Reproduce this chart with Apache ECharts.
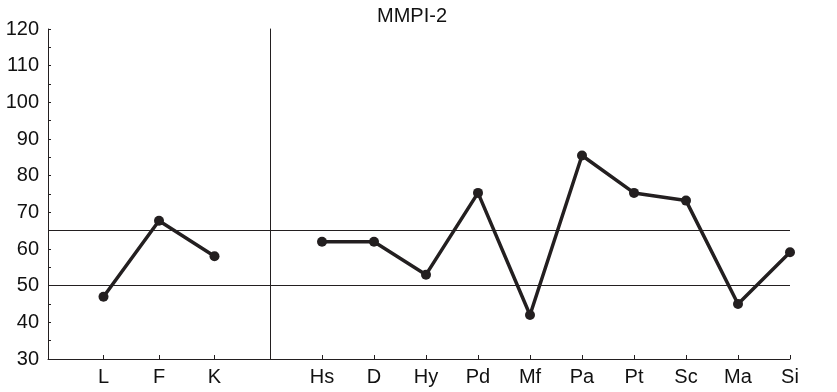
<!DOCTYPE html>
<html>
<head>
<meta charset="utf-8">
<script src="https://cdn.jsdelivr.net/npm/echarts@6/dist/echarts.min.js"></script>
<style>html,body{margin:0;padding:0;background:#fff}#c{width:837px;height:392px}</style>
</head>
<body>
<div id="c"></div>
<script>
var titleText = 'MMPI-2';
var validityScales = ['L', 'F', 'K'];
var validityValues = [47, 67.7, 58];
var clinicalScales = ['Hs', 'D', 'Hy', 'Pd', 'Mf', 'Pa', 'Pt', 'Sc', 'Ma', 'Si'];
var clinicalValues = [62, 62, 53, 75.3, 42, 85.5, 75.3, 73.2, 45, 59.1];
var referenceLines = [50, 65];
var yMin = 30, yMax = 120, yStep = 10;

var ink = '#231f20';
var font = 'Liberation Sans, Helvetica, Arial, sans-serif';

var leftCats = [''].concat(validityScales, ['']);
var leftData = [null].concat(validityValues, [null]);
var rightCats = [''].concat(clinicalScales);
var rightData = [null].concat(clinicalValues);

function markLines() {
  return {
    silent: true, symbol: 'none', label: {show: false},
    lineStyle: {color: ink, width: 1, type: 'solid'},
    data: referenceLines.map(function (v) { return {yAxis: v}; })
  };
}

var xBase = {
  type: 'category', boundaryGap: false,
  axisLine: {show: true, lineStyle: {color: ink, width: 1}},
  axisTick: {show: true, inside: true, length: 4, interval: 0, lineStyle: {color: ink}},
  axisLabel: {interval: 0, color: '#111', fontFamily: font, fontSize: 20, margin: 8},
  splitLine: {show: false}
};

var chart = echarts.init(document.getElementById('c'), null, {renderer: 'canvas'});
chart.setOption({
  animation: false,
  backgroundColor: '#fff',
  title: {text: titleText, left: 377, top: 6, padding: 0,
    textStyle: {fontFamily: font, fontSize: 20, fontWeight: 'normal', color: '#111'}},
  grid: [
    {left: 48, top: 29, width: 222, height: 330},
    {left: 270, top: 29, width: 520, height: 330}
  ],
  xAxis: [
    Object.assign({}, xBase, {gridIndex: 0, data: leftCats}),
    Object.assign({}, xBase, {gridIndex: 1, data: rightCats})
  ],
  yAxis: [
    {type: 'value', gridIndex: 0, min: yMin, max: yMax, interval: yStep,
      axisLine: {show: true, lineStyle: {color: ink, width: 1}},
      axisTick: {show: true, inside: true, length: 3, lineStyle: {color: ink}},
      minorTick: {show: true, splitNumber: 2, length: 3, lineStyle: {color: ink}},
      axisLabel: {color: '#111', fontFamily: font, fontSize: 20, margin: 9},
      splitLine: {show: false}},
    {type: 'value', gridIndex: 1, min: yMin, max: yMax, interval: yStep,
      axisLine: {show: true, lineStyle: {color: ink, width: 1}},
      axisTick: {show: false}, axisLabel: {show: false}, splitLine: {show: false}}
  ],
  series: [
    {type: 'line', xAxisIndex: 0, yAxisIndex: 0, data: leftData,
      symbol: 'circle', symbolSize: 10, showAllSymbol: true,
      lineStyle: {color: ink, width: 3.5}, itemStyle: {color: ink},
      markLine: markLines()},
    {type: 'line', xAxisIndex: 1, yAxisIndex: 1, data: rightData,
      symbol: 'circle', symbolSize: 10, showAllSymbol: true,
      lineStyle: {color: ink, width: 3.5}, itemStyle: {color: ink},
      markLine: markLines()}
  ]
});
</script>
</body>
</html>
